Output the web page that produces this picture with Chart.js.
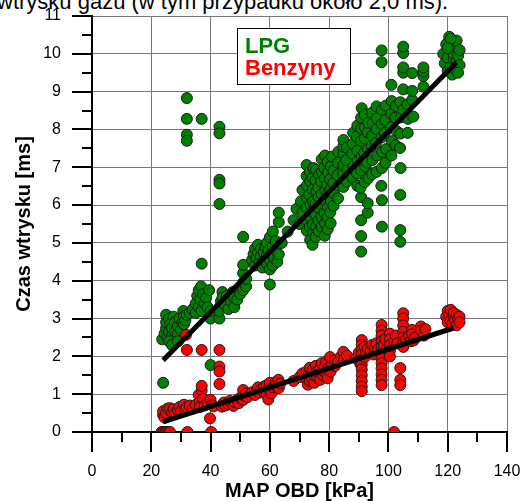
<!DOCTYPE html>
<html>
<head>
<meta charset="utf-8">
<script src="https://cdn.jsdelivr.net/npm/chart.js@4"></script>
<style>
  html, body { margin: 0; padding: 0; background: #fff; overflow: hidden; }
  #wrap { position: relative; width: 524px; height: 501px; }
  #caption { position: absolute; left: -3px; top: -9px; font: 22px 'Liberation Sans', Arial, sans-serif; line-height: 22px; color: #000; white-space: nowrap; }
  canvas { position: absolute; left: 0; top: 0; }
</style>
</head>
<body>
<div id="wrap">
  <div id="caption">wtrysku gazu (w tym przypadku około 2,0 ms).</div>
  <canvas id="chart" width="524" height="501"></canvas>
</div>
<script>
// tick positions
const xMajor = [0, 20, 40, 60, 80, 100, 120, 140];
const xMinor = [10, 30, 50, 70, 90, 110, 130];
const yMajor = [0, 1, 2, 3, 4, 5, 6, 7, 8, 9, 10, 11];
const yMinor = [0.5, 1.5, 2.5, 3.5, 4.5, 5.5, 6.5, 7.5, 8.5, 9.5, 10.5];

// LPG measurements [MAP kPa, injection ms]
const lpgPoints = [
  [23.7,2.45],[24,1.3],[24.5,2.6],[25,2.75],[25,2.9],[25,3.1],[25.5,2.5],[26,2.65],[26,3.0],[26.5,2.85],
  [27,2.55],[27,2.75],[27.5,3.05],[28,2.65],[28,2.9],[28.5,2.45],[29,2.6],[29,2.8],[29.5,3.0],[30,2.7],
  [30.5,2.9],[30.8,3.2],[31,3.05],[31,2.85],[31.5,2.95],[32,3.1],[33,3.15],[26,2.4],[27,2.3],[29,2.4],
  [32,8.83],[32,8.28],[32,7.86],[32,7.7],[37,8.28],[43,8.07],[43,7.9],[43,6.67],[43,6.57],[43,6.03],
  [37,4.45],[51,5.16],[40,1.77],
  [34,3.25],[35,3.15],[35,3.4],[35.5,3.6],[36,3.3],[36,3.75],[36.5,3.5],[36.8,3.85],[37,3.2],[37.5,3.65],
  [38,3.4],[38.5,3.55],[39,3.3],[40,3.0],[40,3.2],[39.5,3.75],
  [43,3.0],[43,3.2],[43.5,3.45],[44,3.7],[44,3.55],[45,3.35],[45.5,3.6],[46,3.25],[47,3.45],[47.5,3.7],
  [48,3.3],[48,3.55],[49,3.5],[50,3.65],[51,3.75],[51,3.95],[51,4.2],[51,4.42],[52,3.85],[52,4.05],
  [54,4.55],[54.5,4.7],[55,4.4],[55,4.85],[55.5,4.6],[56,4.75],[56,4.95],[56.5,4.5],[57,4.65],[57,4.85],
  [57.5,4.35],[58,4.55],[58,4.75],[58.5,4.9],[59,4.45],[59,4.65],[59,5.0],[59.5,4.8],[60,3.9],[60,4.3],
  [60,4.55],[60,5.15],[60.5,4.7],[61,4.4],[61,4.9],[61,5.3],[61.5,4.6],[62,4.8],[62,5.05],[62.5,4.5],
  [63,5.55],[63,5.8],[63,4.7],[64,5.0],
  [66,5.3],[68,5.6],[69,5.9],[70,5.5],[70.5,6.1],[71,5.8],[71,6.4],
  [72.5,5.32],[72.5,5.61],[72.4,5.93],[72.6,6.18],[72.5,6.52],[72.4,6.77],[72.4,7.06],
  [73.6,5.08],[73.4,5.42],[73.5,5.7],[73.7,6.02],[73.3,6.28],[73.6,6.63],[73.5,6.88],
  [74.4,4.95],[74.6,5.27],[74.5,5.48],[74.3,5.83],[74.6,6.09],[74.5,6.41],[74.4,6.72],[74.7,6.98],
  [75.5,5.16],[75.6,5.44],[75.3,5.77],[75.5,6.04],[75.7,6.37],[75.4,6.66],[75.6,6.93],
  [76.5,5.31],[76.4,5.58],[76.6,5.92],[76.5,6.21],[76.3,6.47],[76.6,6.81],
  [77.5,5.42],[77.4,5.69],[77.6,6.01],[77.5,6.29],[77.3,6.62],[77.6,6.88],[77.5,7.21],
  [78.5,5.19],[78.6,5.52],[78.4,5.79],[78.5,6.12],[78.7,6.38],[78.5,6.71],[78.3,6.99],[78.6,7.31],
  [79.5,5.36],[79.4,5.66],[79.6,5.94],[79.5,6.27],[79.3,6.53],[79.6,6.86],[79.5,7.14],
  [80.5,5.52],[80.4,5.81],[80.6,6.09],[80.5,6.42],[80.3,6.68],[80.6,7.02],
  [81.5,5.98],[81.6,6.31],[81.4,6.58],[81.5,6.91],[81,7.28],
  [83,6.18],[83.2,6.52],[82.8,6.79],[83,7.12],[83.1,7.41],
  [84.8,6.48],[84.8,6.81],[84.8,7.06],[84.8,7.37],[84.8,7.55],[84.8,7.72],
  [86,6.62],[86.2,6.93],[85.8,7.19],[86,7.52],
  [88,6.72],[88.2,7.03],[87.8,7.36],[88,7.62],[88.1,7.91],
  [89.5,6.51],[89.4,6.84],[89.6,7.16],[89.5,7.44],[89.3,7.81],[89.5,8.1],
  [90.8,4.77],[90.8,5.18],[90.8,5.6],[90.8,6.21],[90.6,6.46],[90.8,6.92],[91,7.29],[90.7,7.7],[90.9,8.02],[90.8,8.31],[91,8.56],
  [92,6.61],[92.2,7.02],[91.8,7.38],[92,7.76],[92.1,8.05],[92,8.39],
  [93,5.8],[93,6.05],[93.2,6.71],[92.9,7.12],[93.1,7.49],[93,7.92],[93.2,8.18],
  [94.5,6.82],[94.6,7.19],[94.4,7.57],[94.5,7.84],[94.7,8.16],[94.5,8.44],
  [96,6.88],[96.2,7.31],[95.8,7.64],[96,8.01],[96.1,8.29],[96,8.61],
  [97.8,5.43],[97.8,6.13],[97.6,6.51],[97.8,6.98],[97.9,7.41],[97.7,7.79],[97.8,8.14],[97.8,8.52],[97.7,9.78],[97.7,10.09],
  [99,7.12],[99.2,7.48],[98.8,7.91],[99,8.24],[99.1,8.63],
  [101,7.31],[101.2,7.69],[100.8,8.06],[101,8.41],[101.1,8.75],[101,9.18],
  [102.5,7.58],[102.7,7.96],[102.3,8.31],[102.5,8.62],
  [104,5.03],[104,5.34],[104,6.27],[104.1,6.98],[103.9,7.51],[104,7.89],[104.2,8.32],[104,8.72],
  [105,8.52],[105,9.06],[105,9.5],[105,9.64],[105,10.02],[105,10.19],
  [106.5,7.91],[106.6,8.28],[106.4,8.66],
  [108,8.78],[108,9.02],[108,9.49],[108.4,8.34],
  [111.8,9.13],[111.8,9.41],[111.8,9.53],[111.8,9.64],
  [118.5,10.0],[119,9.75],[119.5,10.25],[120,9.55],[120,9.9],[120.5,10.45],[121,10.1],[121,9.65],
  [121.5,10.3],[121.5,9.45],[122,9.85],[122,10.0],[122.5,10.2],[122.5,9.6],[123,9.8],[123,10.35],
  [123.5,9.95],[124,9.7],[124,10.1],[121,10.4],[120,10.15],[123.5,9.5]
];

// petrol (benzyna) measurements [MAP kPa, injection ms]
const benzPoints = [
  [23.5,0],[24,0],[24.3,0],[24.8,0],[25.3,0],[25.8,0],[26.3,0],[32.2,0],[40.2,0],[101.9,0],
  [24,0.45],[24,0.55],[24.5,0.38],[25,0.5],[25.5,0.62],[26.3,0.63],[27,0.52],[27.5,0.6],[28,0.48],
  [29,0.58],[29.5,0.66],[30,0.55],[31,0.72],[31.4,0.6],[32,0.65],[33,0.7],[34,0.62],
  [35,0.72],[36,0.98],[36.4,0.8],[36.4,0.66],[37,1.1],[37,1.22],[37.5,0.88],[38,0.7],[39,0.78],
  [39.8,0.36],[40,0.85],[40.5,0.72],[41,0.68],
  [31.7,2.57],[32,2.17],[37,2.17],[43,2.17],[43,1.73],[43,1.6],[43,1.27],
  [43.8,0.67],[44.5,0.78],[45,0.7],[46,0.74],[46.5,0.82],[47.7,0.69],[48,0.8],[49,0.85],[49.5,0.76],
  [50,0.9],[51,0.85],[51,0.98],[51,1.11],[52,1.02],[52.5,0.92],
  [54,1.05],[55,0.98],[55.6,1.11],[56,1.18],[56.5,1.04],[57,1.12],[58,1.2],[58,1.06],[59,1.24],
  [59,0.98],[59.5,0.86],[60,1.1],[60,1.3],[60.5,1.02],[61,1.18],[62,1.32],[62,1.22],[62.9,1.38],
  [63,1.16],[63.5,1.28],
  [68,1.35],[70,1.45],[71,1.55],
  [72.4,1.4],[72.4,1.6],[72.8,1.25],[73,1.5],[73.5,1.7],[73.5,1.35],[74,1.55],[74,1.45],[74.5,1.65],
  [75,1.3],[75,1.5],[75.5,1.75],[76,1.45],[76,1.6],[76.5,1.55],[77,1.68],[77,1.38],[77.5,1.82],
  [78,1.5],[78,1.62],[78.5,1.72],[79,1.58],[79,1.85],[79.5,1.42],[80,1.7],[80.3,1.98],[80.5,1.6],
  [81,1.78],[82,1.75],[82,1.9],[83,1.85],[84,2.0],[84.8,2.12],[85,1.92],[86,2.02],
  [89,1.95],[90,2.1],[90.5,1.8],[91,2.43],[91,2.3],[91,2.18],[91,2.05],[91,1.92],[91,1.78],[91,1.65],
  [91,1.5],[91,1.35],[91,1.2],[91,1.08],[92,2.25],[92,1.98],[92.5,2.12],[93,2.2],
  [94,2.15],[94.5,2.3],[95,2.05],[95.5,2.22],[96,2.35],[96.5,2.18],
  [97.7,2.83],[97.7,2.68],[97.7,2.55],[97.7,2.4],[97.7,2.25],[97.7,2.1],[97.7,1.95],[97.7,1.82],
  [97.7,1.68],[97.7,1.52],[97.7,1.38],[97.7,1.24],[98.5,2.3],[99,2.45],[99.5,2.2],
  [100.5,2.6],[100.5,2.45],[100.5,2.3],[100.5,2.15],[100.5,2.0],
  [102,2.4],[102.5,2.55],[103,2.35],[104,1.69],[104,1.38],[104,1.24],
  [105,3.14],[105,3.0],[105,2.82],[105,2.65],[105,2.5],[105,2.38],[105,2.25],[106,2.45],[107,2.55],
  [107.5,2.4],[108,2.7],[108,2.58],[108.5,2.42],[109,2.5],[111,2.79],[111,2.68],[112,2.55],[112.5,2.72],
  [119.5,3.05],[120,3.2],[120,2.9],[120.5,3.1],[121,2.95],[121,3.23],[121.5,2.85],[122,3.05],
  [122,3.15],[122.5,2.95],[123,3.1],[123,2.82],[123.5,3.0],[124,3.05],[124,2.9]
];

// regression lines (end points)
const lpgFit = [[24, 1.9], [123, 9.78]];
const benzFit = [[24, 0.27], [122, 2.75]];

const legendItems = [
  { text: 'LPG', color: '#008000' },
  { text: 'Benzyny', color: '#ff0000' }
];

const FONT = "'Liberation Sans', Arial, sans-serif";
const toXY = arr => arr.map(p => ({ x: p[0], y: p[1] }));

// outward tick marks (major longer than minor) and legend box
const extrasPlugin = {
  id: 'extras',
  afterDatasetsDraw(chart) {
    const ctx = chart.ctx;
    ctx.save();
    ctx.fillStyle = '#fff';
    ctx.fillRect(237.5, 28.5, 113, 56);
    ctx.strokeStyle = '#000';
    ctx.lineWidth = 1;
    ctx.strokeRect(237.5, 28.5, 113, 56);
    ctx.font = 'bold 22px ' + FONT;
    ctx.textBaseline = 'alphabetic';
    ctx.textAlign = 'left';
    legendItems.forEach((item, i) => {
      ctx.fillStyle = item.color;
      ctx.fillText(item.text, 245, 53 + i * 22);
    });
    ctx.restore();
  },
  afterDraw(chart) {
    const ctx = chart.ctx;
    const xs = chart.scales.x, ys = chart.scales.y;
    const axisY = ys.getPixelForValue(0);
    const axisX = xs.getPixelForValue(0);
    ctx.save();
    ctx.strokeStyle = '#000';
    ctx.lineWidth = 2;
    ctx.beginPath();
    xMajor.forEach(v => { const p = Math.round(xs.getPixelForValue(v)); ctx.moveTo(p, axisY); ctx.lineTo(p, axisY + 20); });
    xMinor.forEach(v => { const p = Math.round(xs.getPixelForValue(v)); ctx.moveTo(p, axisY); ctx.lineTo(p, axisY + 10); });
    yMajor.forEach(v => { const p = Math.round(ys.getPixelForValue(v)); ctx.moveTo(axisX, p); ctx.lineTo(axisX - 20, p); });
    yMinor.forEach(v => { const p = Math.round(ys.getPixelForValue(v)); ctx.moveTo(axisX, p); ctx.lineTo(axisX - 10, p); });
    ctx.stroke();
    ctx.restore();
  }
};

new Chart(document.getElementById('chart').getContext('2d'), {
  type: 'scatter',
  data: {
    datasets: [
      {
        label: 'LPG fit', type: 'line', data: toXY(lpgFit),
        borderColor: '#000', borderWidth: 5, pointRadius: 0, fill: false, order: 0, borderCapStyle: 'butt'
      },
      {
        label: 'Benzyny fit', type: 'line', data: toXY(benzFit),
        borderColor: '#000', borderWidth: 5, pointRadius: 0, fill: false, order: 0, borderCapStyle: 'butt'
      },
      {
        label: 'Benzyny', data: toXY(benzPoints),
        backgroundColor: '#ff0000', borderColor: '#1a1a1a', borderWidth: 1, pointRadius: 5.5, order: 1
      },
      {
        label: 'LPG', data: toXY(lpgPoints),
        backgroundColor: '#008000', borderColor: '#1a1a1a', borderWidth: 1, pointRadius: 5.5, order: 2
      }
    ]
  },
  options: {
    responsive: false,
    animation: false,
    layout: { padding: { top: 16, right: 17, left: 0, bottom: 0 } },
    plugins: {
      legend: { display: false },
      tooltip: { enabled: false }
    },
    scales: {
      x: {
        type: 'linear', min: 0, max: 140,
        afterFit: s => { s.height = 69; s.paddingLeft = 0; s.paddingRight = 0; },
        grid: { color: '#777', lineWidth: 1, drawTicks: false },
        border: { display: true, color: '#000', width: 2 },
        ticks: { stepSize: 20, padding: 30, color: '#000', font: { family: FONT, size: 16 } },
        title: { display: true, text: 'MAP OBD [kPa]', color: '#000', padding: 0,
                 font: { family: FONT, size: 20, weight: 'bold', lineHeight: 1 } }
      },
      y: {
        type: 'linear', min: 0, max: 11,
        afterFit: s => { s.width = 92; s.paddingTop = 0; s.paddingBottom = 0; },
        grid: { color: '#777', lineWidth: 1, drawTicks: false },
        border: { display: true, color: '#000', width: 2 },
        ticks: { stepSize: 1, padding: 31, color: '#000', font: { family: FONT, size: 16 } },
        title: { display: true, text: 'Czas wtrysku [ms]', color: '#000', padding: { top: 14, bottom: 0 },
                 font: { family: FONT, size: 20, weight: 'bold', lineHeight: 1 } }
      }
    }
  },
  plugins: [extrasPlugin]
});
</script>
</body>
</html>
